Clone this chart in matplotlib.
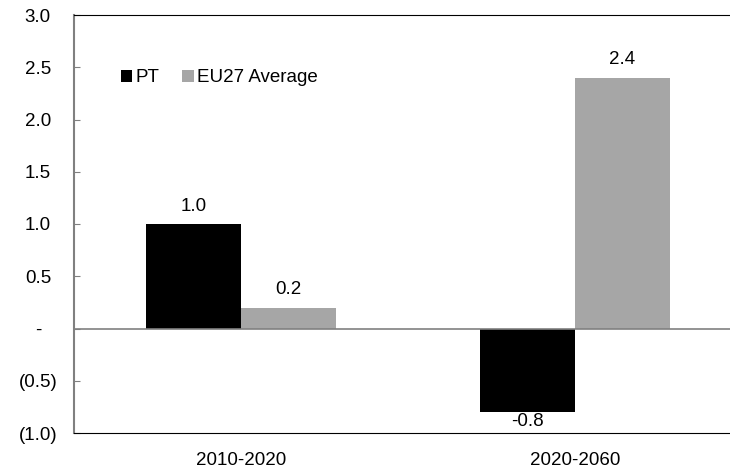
import numpy as np
import matplotlib.pyplot as plt
from matplotlib.ticker import FuncFormatter

plt.rcParams['font.family'] = ['Liberation Sans', 'DejaVu Sans']

# data
periods = ['2010-2020', '2020-2060']
pt = [1.0, -0.8]
eu27 = [0.2, 2.4]
series_names = ['PT', 'EU27 Average']
yticks = [-1.0, -0.5, 0.0, 0.5, 1.0, 1.5, 2.0, 2.5, 3.0]

FS = 13.5


def fmt(v, pos=None):
    if abs(v) < 1e-9:
        return '-'
    if v < 0:
        return '({:.1f})'.format(-v)
    return '{:.1f}'.format(v)


fig = plt.figure(figsize=(7.3, 4.74), dpi=100)
ax = fig.add_axes([74 / 730, 41 / 474, 668 / 730, 418 / 474])

x = np.arange(len(periods))
w = 0.284
b1 = ax.bar(x - w / 2, pt, w, color='#000000', label=series_names[0], zorder=3)
b2 = ax.bar(x + w / 2, eu27, w, color='#a6a6a6', label=series_names[1], zorder=3)

for bars, vals in ((b1, pt), (b2, eu27)):
    for rect, v in zip(bars, vals):
        cx = rect.get_x() + rect.get_width() / 2
        if v >= 0:
            ax.text(cx, v + 0.09, '{:.1f}'.format(v), ha='center', va='bottom', fontsize=FS)
        else:
            ax.text(cx, v - 0.01, '{:.1f}'.format(v), ha='center', va='top', fontsize=FS)

ax.axhline(0, color='#808080', lw=1.2, zorder=4)
ax.set_xlim(-0.5, 1.5)
ax.set_ylim(-1.0, 3.0)
ax.set_yticks(yticks)
ax.yaxis.set_major_formatter(FuncFormatter(fmt))
ax.set_xticks(x)
ax.set_xticklabels(periods)
ax.tick_params(axis='y', direction='in', length=4, color='#808080', labelsize=FS, pad=26)
ax.tick_params(axis='x', length=0, labelsize=FS, pad=14)
for lbl in ax.get_yticklabels():
    lbl.set_horizontalalignment('center')

ax.spines['left'].set_color('#808080')
ax.spines['left'].set_linewidth(1.5)
ax.spines['top'].set_color('#000000')
ax.spines['bottom'].set_color('#000000')
ax.spines['right'].set_visible(False)

ax.legend(loc='upper left', bbox_to_anchor=(0.045, 0.91), ncol=2, frameon=False,
          fontsize=FS, handlelength=0.6, handleheight=0.6, handletextpad=0.2,
          columnspacing=1.2)

fig.savefig('out.png', dpi=100)
